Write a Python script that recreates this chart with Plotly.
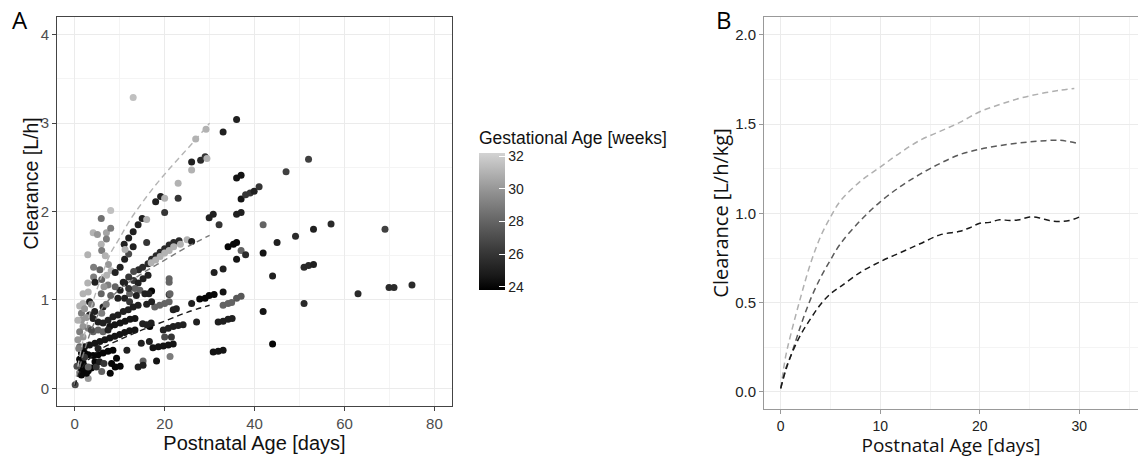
import plotly.graph_objects as go

# ---------------- Panel A data: observed clearance ----------------
pna_days = [
    13.0, 29.2, 26.9, 26.0, 28.0, 29.0, 29.4, 26.0, 23.0, 18.0, 19.1, 20.0, 23.0, 20.0, 15.0, 16.0,
    14.1, 13.0, 12.0, 11.0, 13.0, 16.0, 8.0, 5.9, 4.1, 5.05, 7.05, 8.0, 7.05, 5.9, 29.9, 30.8,
    36.0, 33.0, 52.0, 47.0, 36.0, 37.0, 37.0, 38.0, 39.0, 39.9, 41.0, 32.1, 36.0, 37.0, 41.9, 57.0,
    53.1, 49.1, 45.0, 69.0, 34.1, 35.3, 36.0, 37.0, 38.0, 36.0, 41.9, 31.0, 33.0, 44.0, 51.0, 52.0,
    53.1, 27.8, 29.0, 29.9, 31.0, 33.0, 33.0, 34.1, 34.9, 36.0, 37.0, 41.9, 51.0, 44.0, 31.9, 33.0,
    34.1, 35.0, 30.8, 31.9, 33.0, 63.0, 69.9, 71.0, 75.0,
    14.2, 15.1, 16.3, 17.1, 18.1, 19.0, 20.0, 21.0, 22.0, 23.2,
    17.0, 18.0, 19.0, 20.0, 21.0, 22.0, 23.5, 25.0,
    26.0, 21.0, 21.0, 21.0, 17.1, 17.8, 18.9, 20.0, 21.0, 21.9, 22.6, 26.0, 27.1,
    19.7, 20.8, 21.9, 23.0, 24.1, 16.7, 17.4, 18.6, 19.7, 20.8, 21.9, 20.0, 21.5, 21.2, 18.2, 15.2,
    14.1, 15.2,
    6.0, 2.9, 4.2, 4.2, 2.9, 6.0, 8.1, 7.1, 9.0, 10.1, 11.1, 12.0, 11.2, 13.1, 12.0, 13.1, 10.8,
    3.0, 1.85, 7.4, 5.9, 11.1, 14.1, 15.2, 16.3, 17.1, 21.2, 14.5, 15.6, 13.4, 12.2, 9.6, 11.1,
    12.2, 13.7, 10.1, 12.0, 16.5, 16.0, 15.1, 16.0, 17.0, 14.8, 16.6, 11.6, 7.9, 9.0, 10.1, 6.0,
    3.0, 0.1,
    5.2, 6.3, 7.4, 8.5, 9.6, 10.8, 11.9, 13.0, 14.1,
    7.8, 8.9, 10.1, 11.2, 12.3, 13.4,
    4.1, 5.2, 6.3, 1.85, 3.0, 1.5, 1.1, 1.85, 0.7,
    2.2, 3.3, 4.5, 5.6, 6.7, 7.8, 8.9, 10.0, 11.1, 12.2, 13.4,
    2.2, 3.0, 4.1, 5.2, 6.3, 7.4, 8.5,
    1.1, 1.5, 2.2, 3.0, 3.7, 4.5, 1.1, 1.85, 2.6, 1.5,
    4.45, 3.3, 4.1,
    1.1, 1.85, 0.7, 1.5, 1.1, 1.5, 1.1, 1.85, 5.6, 4.5, 3.3, 6.3, 3.7, 7.4, 5.2, 3.0, 4.8, 8.2, 9.3,
    2.6, 2.2, 3.7, 6.0, 7.0, 8.0, 9.0, 6.5, 7.5, 6.8, 0.9, 0.5, 5.5, 6.5, 2.2,
]
clearance_lh = [
    3.29, 2.93, 2.82, 2.56, 2.58, 2.62, 2.60, 2.47, 2.32, 2.11, 2.17, 2.15, 2.15, 1.99, 1.92, 1.91,
    1.85, 1.77, 1.70, 1.63, 1.60, 1.65, 2.01, 1.92, 1.76, 1.74, 1.76, 1.81, 1.69, 1.63, 1.93, 1.97,
    3.04, 2.90, 2.59, 2.45, 2.38, 2.41, 2.14, 2.19, 2.21, 2.23, 2.28, 1.85, 1.97, 1.99, 1.85, 1.86,
    1.80, 1.72, 1.65, 1.80, 1.60, 1.63, 1.65, 1.56, 1.51, 1.46, 1.53, 1.31, 1.35, 1.27, 1.37, 1.39,
    1.40, 1.01, 1.02, 1.05, 1.06, 1.09, 0.94, 0.96, 0.97, 1.02, 1.04, 0.87, 0.96, 0.50, 0.75, 0.76,
    0.78, 0.79, 0.41, 0.42, 0.43, 1.07, 1.14, 1.14, 1.17,
    1.34, 1.37, 1.41, 1.46, 1.50, 1.54, 1.58, 1.62, 1.65, 1.67,
    1.42, 1.45, 1.49, 1.53, 1.56, 1.60, 1.63, 1.68,
    1.66, 1.24, 1.20, 1.06, 1.10, 0.92, 0.94, 0.96, 0.98, 0.89, 0.90, 0.96, 0.75,
    0.66, 0.68, 0.70, 0.71, 0.72, 0.70, 0.46, 0.47, 0.48, 0.49, 0.50, 0.58, 0.58, 0.36, 0.31, 0.31,
    0.24, 0.26,
    1.56, 1.51, 1.37, 1.26, 1.19, 1.23, 1.33, 1.28, 1.31, 1.37, 1.46, 1.52, 1.57, 1.32, 1.26, 1.22, 1.20,
    1.09, 0.96, 1.17, 1.07, 1.19, 1.19, 1.24, 1.28, 0.98, 1.07, 1.11, 1.07, 1.13, 1.07, 1.02, 1.02,
    0.98, 1.05, 1.11, 1.13, 1.07, 0.95, 0.73, 0.72, 0.74, 0.51, 0.53, 0.43, 0.17, 0.24, 0.25, 0.19,
    0.11, 0.04,
    0.75, 0.74, 0.77, 0.81, 0.83, 0.87, 0.89, 0.92, 0.94,
    0.70, 0.72, 0.74, 0.76, 0.78, 0.79,
    0.64, 0.66, 0.64, 0.70, 0.68, 0.77, 0.64, 0.58, 0.55,
    0.47, 0.49, 0.51, 0.53, 0.55, 0.57, 0.59, 0.61, 0.63, 0.65, 0.66,
    0.40, 0.38, 0.37, 0.38, 0.40, 0.42, 0.43,
    0.27, 0.22, 0.25, 0.20, 0.23, 0.30, 0.17, 0.19, 0.17, 0.15,
    0.87, 0.83, 0.79,
    0.93, 1.07, 0.77, 0.85, 0.47, 0.40, 0.33, 0.29, 1.34, 1.20, 0.98, 0.92, 0.66, 0.66, 0.45, 0.24, 0.24, 0.28, 0.34,
    0.80, 0.90, 0.95, 0.85, 0.95, 1.05, 1.15, 1.15, 1.40, 1.50, 0.45, 0.25, 0.30, 0.28, 0.35,
]
ga_weeks = [
    31.5, 31, 31, 25, 25.5, 26, 31, 31, 31, 25, 25, 31, 26, 26, 25, 31,
    25, 25, 25, 25, 25, 26, 31.5, 28.5, 31, 30, 30.5, 29, 29, 31, 25, 25,
    25, 25, 26.5, 26.5, 24.5, 24.5, 24.5, 26, 26, 25, 26, 26, 25, 25, 28, 25.5,
    25, 25.5, 25, 26.5, 24, 24, 24, 28, 25.5, 24.5, 24.5, 25, 25, 25, 25.5, 25.5,
    25, 24, 24, 24, 24, 24.5, 28, 28, 28, 27.5, 27.5, 24.5, 25.5, 24, 25, 25,
    25, 25, 24.5, 24.5, 24.5, 25.5, 25.5, 25.5, 25.5,
    25.5, 25.5, 25.5, 25.5, 25.5, 25.5, 25.5, 25.5, 25.5, 25.5,
    31, 31, 31, 31, 31, 31, 31, 31,
    25, 28, 28, 26, 24, 28, 28, 28, 28, 25, 25, 25, 25,
    25, 25, 25, 25, 25, 24, 24.5, 24.5, 24.5, 24.5, 24.5, 27, 26, 29, 24.5, 28,
    25, 25,
    29, 31, 29, 29, 31, 28, 31, 31, 25, 25, 25, 27, 31, 27, 26, 26, 25,
    31, 31, 29, 28, 25, 25, 25, 25, 25, 28, 28, 25, 28, 28, 25, 25,
    26, 25, 25, 26, 25, 25, 25, 25, 25, 25, 25, 25, 24, 24, 24, 28,
    30, 27,
    25, 25, 25, 25, 25, 25, 25, 25, 25,
    24.5, 24.5, 24.5, 24.5, 24.5, 24.5,
    28, 28, 28, 30, 29, 30, 29, 30, 30,
    24.5, 24.5, 24.5, 24.5, 24.5, 24.5, 24.5, 24.5, 24.5, 24.5, 24.5,
    24, 24, 24, 24, 24, 24, 24,
    24, 24, 24, 24, 24, 24, 24, 24, 24, 24,
    25, 25, 25,
    31, 31, 31, 29, 28, 24, 24, 24, 28, 25, 25, 25, 27, 25, 25, 28, 26, 24, 24,
    30, 30, 29, 29, 29, 28, 28, 30, 30, 31, 29, 27, 25, 26, 26,
]

# Panel A model curves [L/h]
curve_a_light_x = [0, 1, 2, 4, 6, 8, 10, 12, 15, 18, 21, 24, 27, 30]
curve_a_light_y = [0.02, 0.33, 0.57, 0.97, 1.27, 1.53, 1.70, 1.88, 2.10, 2.30, 2.48, 2.65, 2.82, 3.00]
curve_a_mid_x = [0, 1, 2, 4, 6, 10, 15, 20, 25, 30]
curve_a_mid_y = [0.02, 0.22, 0.40, 0.70, 0.90, 1.12, 1.30, 1.45, 1.60, 1.73]
curve_a_dark_x = [0, 1, 2, 4, 6, 10, 15, 20, 25, 30]
curve_a_dark_y = [0.02, 0.17, 0.26, 0.37, 0.45, 0.55, 0.66, 0.76, 0.86, 0.94]

# ---------------- Panel B data: weight-normalised clearance ----------------
b_light_x = [0, 0.5, 1, 2, 3, 4, 5, 6, 8, 10, 12, 14, 16, 18, 20, 22, 24, 26, 28, 29.5]
b_light_y = [0.02, 0.20, 0.32, 0.53, 0.72, 0.87, 0.98, 1.07, 1.18, 1.26, 1.34, 1.41, 1.46,
             1.51, 1.57, 1.61, 1.645, 1.67, 1.69, 1.70]
b_mid_x = [0, 0.5, 1, 2, 3, 4, 5, 6, 8, 10, 12, 14, 16, 18, 20, 22, 24, 26, 28, 30]
b_mid_y = [0.02, 0.13, 0.20, 0.37, 0.52, 0.64, 0.74, 0.83, 0.96, 1.065, 1.15, 1.22, 1.28,
           1.33, 1.36, 1.38, 1.395, 1.405, 1.41, 1.39]
b_dark_x = [0, 0.5, 1, 2, 3, 4, 5, 6, 8, 10, 12, 14, 16, 18, 19, 20, 21, 22, 23, 24, 25, 26,
            27, 28, 29, 30]
b_dark_y = [0.02, 0.12, 0.20, 0.32, 0.41, 0.49, 0.55, 0.59, 0.67, 0.73, 0.78, 0.83, 0.88, 0.90,
            0.92, 0.945, 0.95, 0.965, 0.96, 0.965, 0.98, 0.975, 0.96, 0.955, 0.96, 0.98]

x_ticks_a = [0, 20, 40, 60, 80]
y_ticks_a = [0, 1, 2, 3, 4]
x_ticks_b = [0, 10, 20, 30]
y_ticks_b = [0.0, 0.5, 1.0, 1.5, 2.0]
cbar_ticks = [24, 26, 28, 30, 32]


def lab_gray(L):
    Y = ((L + 16) / 116) ** 3 if L > 8 else L / 903.3
    c = 1.055 * Y ** (1 / 2.4) - 0.055 if Y > 0.0031308 else 12.92 * Y
    v = int(round(max(0, min(1, c)) * 255))
    return f"rgb({v},{v},{v})"


L_HIGH = 84.56
colorscale = [[i / 10, lab_gray(L_HIGH * i / 10)] for i in range(11)]

AFONT = "Liberation Sans, Arial, sans-serif"
BFONT = "Open Sans, Liberation Sans, sans-serif"
DASH = "6px,4px"

fig = go.Figure()

fig.add_trace(go.Scatter(
    x=pna_days, y=clearance_lh, mode="markers", xaxis="x", yaxis="y",
    marker=dict(size=7, color=ga_weeks, colorscale=colorscale, cmin=23.8, cmax=32.2,
                line=dict(width=0),
                colorbar=dict(
                    title=dict(text="Gestational Age [weeks]", side="top",
                               font=dict(family=AFONT, size=17.5, color="#111")),
                    tickvals=cbar_ticks, ticks="inside", tickcolor="white", ticklen=6,
                    tickfont=dict(family=AFONT, size=14, color="#222"),
                    outlinewidth=0, thickness=26, thicknessmode="pixels",
                    len=162, lenmode="pixels", x=479 / 1138, xanchor="left",
                    y=1 - 290 / 458, yanchor="bottom", xpad=0, ypad=0)),
    showlegend=False, hoverinfo="skip"))

for xs, ys, col in [(curve_a_light_x, curve_a_light_y, "#b4b4b4"),
                    (curve_a_mid_x, curve_a_mid_y, "#7a7a7a"),
                    (curve_a_dark_x, curve_a_dark_y, "#1c1c1c")]:
    fig.add_trace(go.Scatter(x=xs, y=ys, mode="lines", xaxis="x", yaxis="y",
                             line=dict(color=col, width=1.4, dash=DASH, shape="spline"),
                             showlegend=False, hoverinfo="skip"))

for xs, ys, col in [(b_light_x, b_light_y, "#b0b0b0"),
                    (b_mid_x, b_mid_y, "#5a5a5a"),
                    (b_dark_x, b_dark_y, "#1a1a1a")]:
    fig.add_trace(go.Scatter(x=xs, y=ys, mode="lines", xaxis="x2", yaxis="y2",
                             line=dict(color=col, width=1.5, dash=DASH, shape="spline"),
                             showlegend=False, hoverinfo="skip"))

grid_major = "#ebebeb"
grid_minor = "#f4f4f4"

fig.update_layout(
    width=1138, height=458, autosize=False,
    margin=dict(l=0, r=0, t=0, b=0),
    paper_bgcolor="white", plot_bgcolor="white",
    xaxis=dict(domain=[57 / 1138, 452 / 1138], range=[-3.94, 83.9], tickvals=x_ticks_a,
               showgrid=True, gridcolor=grid_major, gridwidth=1,
               minor=dict(dtick=10, showgrid=True, gridcolor=grid_minor, gridwidth=1),
               zeroline=False, showline=True, mirror=True, linecolor="#444", linewidth=1,
               ticks="outside", ticklen=4, tickcolor="#444",
               tickfont=dict(family=AFONT, size=15, color="#4d4d4d"),
               title=dict(text="Postnatal Age [days]", standoff=4,
                          font=dict(family=AFONT, size=20, color="#111")),
               anchor="y"),
    yaxis=dict(domain=[1 - 406 / 458, 1 - 17 / 458], range=[-0.2, 4.2], tickvals=y_ticks_a,
               showgrid=True, gridcolor=grid_major, gridwidth=1,
               minor=dict(dtick=0.5, showgrid=True, gridcolor=grid_minor, gridwidth=1),
               zeroline=False, showline=True, mirror=True, linecolor="#444", linewidth=1,
               ticks="outside", ticklen=4, tickcolor="#444",
               tickfont=dict(family=AFONT, size=15, color="#4d4d4d"),
               anchor="x"),
    xaxis2=dict(domain=[764 / 1138, 1.0], range=[-1.68, 35.9], tickvals=x_ticks_b,
                showgrid=True, gridcolor=grid_major, gridwidth=1,
                minor=dict(dtick=5, showgrid=True, gridcolor=grid_minor, gridwidth=1),
                zeroline=False, showline=True, mirror=True, linecolor="#999", linewidth=1,
                ticks="outside", ticklen=4, tickcolor="#999",
                tickfont=dict(family=AFONT, size=14, color="#222"),
                title=dict(text="Postnatal Age [days]", standoff=9,
                           font=dict(family=BFONT, size=19, color="#111")),
                anchor="y2"),
    yaxis2=dict(domain=[1 - 408.7 / 458, 1 - 17.3 / 458], range=[-0.094, 2.099],
                tickvals=y_ticks_b, tickformat=".1f",
                showgrid=True, gridcolor=grid_major, gridwidth=1,
                minor=dict(dtick=0.25, showgrid=True, gridcolor=grid_minor, gridwidth=1),
                zeroline=False, showline=True, mirror=True, linecolor="#999", linewidth=1,
                ticks="outside", ticklen=4, tickcolor="#999",
                tickfont=dict(family=AFONT, size=15, color="#222"),
                title=dict(text="Clearance [L/h/kg]", standoff=1,
                           font=dict(family=BFONT, size=20, color="#111")),
                anchor="x2"),
    annotations=[
        dict(text="A", x=20 / 1138, y=1 - 20 / 458, xref="paper", yref="paper",
             showarrow=False, font=dict(family=BFONT, size=24, color="#000"),
             xanchor="center", yanchor="middle"),
        dict(text="B", x=724 / 1138, y=1 - 20 / 458, xref="paper", yref="paper",
             showarrow=False, font=dict(family=BFONT, size=24, color="#000"),
             xanchor="center", yanchor="middle"),
        dict(text="Clearance [L/h]", x=30 / 1138, y=1 - 183.5 / 458, xref="paper",
             yref="paper", showarrow=False, textangle=-90,
             font=dict(family=AFONT, size=19.5, color="#111"),
             xanchor="center", yanchor="middle"),
    ],
)

fig.write_html("out.html", config={"displayModeBar": False},
               post_script="document.body.style.margin='0';document.body.style.padding='0';")
